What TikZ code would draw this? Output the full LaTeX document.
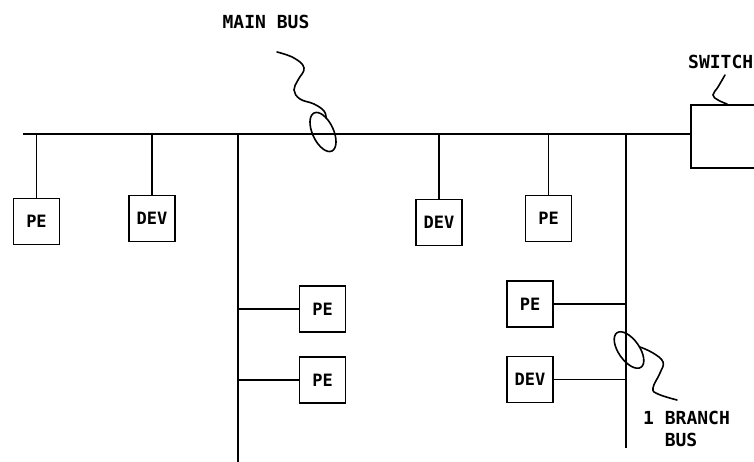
\documentclass[tikz,border=0pt]{standalone}
\usepackage{fontspec}
\setmonofont{DejaVu Sans Mono}
\usetikzlibrary{positioning, calc, shapes.geometric}

\begin{document}
\begin{tikzpicture}[
    x=1pt, y=-1pt,
    node distance=5pt,
    bus/.style={line width=2.2pt},
    tap/.style={line width=1.8pt},
    unit/.style={rectangle, draw, line width=1.8pt, minimum size=46pt, inner sep=0pt, font=\ttfamily\bfseries\fontsize{17}{17}\selectfont},
    switchbox/.style={rectangle, draw, line width=1.8pt, minimum width=110pt, minimum height=63pt, anchor=north west},
    tag/.style={font=\ttfamily\bfseries\fontsize{18}{20}\selectfont, inner sep=0pt},
    ring/.style={ellipse, draw, line width=1.6pt, minimum width=21pt, minimum height=42pt, inner sep=0pt},
    pointer/.style={line width=1.6pt, line cap=round}
  ]
  \useasboundingbox (0,0) rectangle (754,462);

  % units on the main bus
  \node[unit] (pe1) at (36.5,221.5) {PE};
  \node[unit] (dev1) at (152,218.5) {DEV};
  \node[unit] (dev2) at (439,222.5) {DEV};
  \node[unit] (pe2) at (548.5,218.5) {PE};
  \node[switchbox] (switch) at (690,104) {};

  % units on the branch buses
  \node[unit] (pe3) at (322.5,309) {PE};
  \node[unit] (pe4) at (322.5,380) {PE};
  \node[unit] (pe5) at (530,304) {PE};
  \node[unit] (dev3) at (530,379.5) {DEV};

  \coordinate (busL) at (23,134);
  \coordinate (brA) at (238,134);
  \coordinate (brAend) at (238,462);
  \coordinate (brB) at (626,134);
  \coordinate (brBend) at (626,448);

  \draw[bus] (busL) -- (busL -| switch.west);
  \draw[bus] (brA) -- (brAend);
  \draw[bus] (brB) -- (brBend);

  \foreach \u in {pe1,dev1,dev2,pe2}
    \draw[tap] (\u.north) -- (\u.north |- busL);
  \foreach \u in {pe3,pe4}
    \draw[tap] (\u.west) -- (\u.west -| brA);
  \foreach \u in {pe5,dev3}
    \draw[tap] (\u.east) -- (\u.east -| brB);

  % labels
  \node[tag] (mainlbl) at (266,22) {MAIN BUS};
  \node[tag, anchor=west] (switchlbl) at (688,62) {SWITCH};
  \node[tag, anchor=west] (branchlbl) at (643,418) {1 BRANCH};
  \node[tag, below=8pt of branchlbl.south west, anchor=north west, xshift=21.6pt] (buslbl) {BUS};

  % rings and pointers
  \node[ring, rotate=25] (mainring) at (323,132) {};
  \node[ring, rotate=35] (branchring) at (629,350) {};
  \coordinate (mainptr) at (277,52);
  \coordinate (branchptr) at (677,400);
  \coordinate (switchptr) at (725,75);

  \draw[pointer] plot[smooth, tension=0.7] coordinates {(mainptr) (294,58) (304,68) (298,80) (294,90) (300,99) (314,104) (324,111) ($(mainring.center)+(3,-14)$)};
  \draw[pointer] plot[smooth, tension=0.7] coordinates {($(branchring.center)+(11,-3)$) (653,353) (663,362) (660,373) (653,388) (658,394) (branchptr)};
  \draw[pointer] plot[smooth, tension=0.7] coordinates {(switchptr) (718,87) (713,95) (718,100) ($(switch.north west)+(37,0)$)};
\end{tikzpicture}
\end{document}
